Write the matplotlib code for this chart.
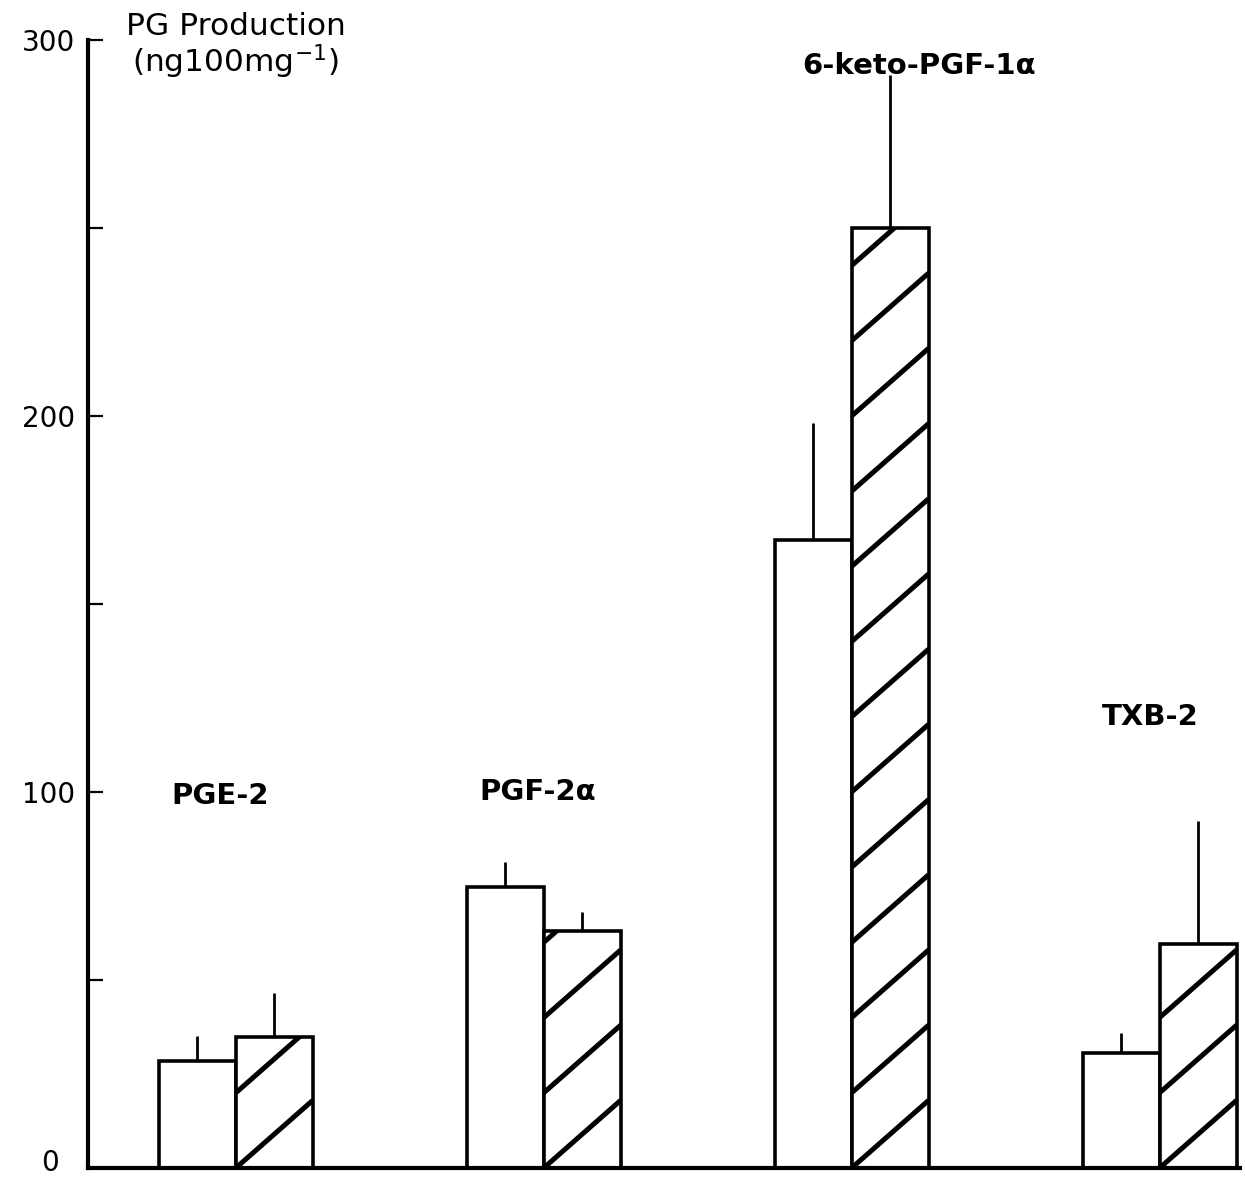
import numpy as np
import matplotlib
matplotlib.use("Agg")
import matplotlib.pyplot as plt
from matplotlib.transforms import ScaledTranslation

# datos
grupos = ["PGE-2", "PGF-2α", "6-keto-PGF-1α", "TXB-2"]
control = [28.5, 74.7, 167.0, 30.6]
control_err = [6.6, 6.7, 31.1, 5.3]
tratado = [34.8, 63.0, 250.0, 59.6]
tratado_err = [11.7, 5.1, 40.7, 32.7]

# posicion de las etiquetas (x relativo al grupo, y en unidades del eje)
etiqueta_dx = [-0.05, -0.02, 0.22, -0.03]
etiqueta_y = [99, 100, 293, 120]

ancho = 0.25
paso_rayado = 20
subida_rayado = 18

fig = plt.figure(figsize=(12.45, 11.77), dpi=100)
ax = fig.add_axes([0.0707, 0.00765, 0.925, 0.9584])

x = np.arange(len(grupos))

barras_c = ax.bar(x - ancho / 2, control, width=ancho, color="white",
                  edgecolor="black", linewidth=2.6, zorder=2)
barras_t = ax.bar(x + ancho / 2, tratado, width=ancho, color="white",
                  edgecolor="black", linewidth=2.6, zorder=2)

ax.errorbar(x - ancho / 2, control, yerr=[np.zeros(len(x)), control_err],
            fmt="none", ecolor="black", elinewidth=2, capsize=0, zorder=1)
ax.errorbar(x + ancho / 2, tratado, yerr=[np.zeros(len(x)), tratado_err],
            fmt="none", ecolor="black", elinewidth=2, capsize=0, zorder=1)

# rayado ancho dibujado a mano, recortado a cada barra
for barra, alto in zip(barras_t, tratado):
    x0 = barra.get_x()
    x1 = x0 + barra.get_width()
    for base in np.arange(0, alto + paso_rayado, paso_rayado):
        linea, = ax.plot([x0, x1], [base, base + subida_rayado],
                         color="black", linewidth=3.6, solid_capstyle="butt",
                         zorder=3)
        linea.set_clip_path(barra)

for i, nombre in enumerate(grupos):
    ax.text(x[i] + etiqueta_dx[i], etiqueta_y[i], nombre, ha="center",
            va="center", fontsize=21, fontweight="bold", clip_on=False)

ax.text(0.128, 0.994, "PG Production\n(ng100mg$^{-1}$)", transform=ax.transAxes,
        ha="center", va="center", fontsize=22.5, linespacing=1.05)

ax.set_xlim(-0.48, 3.26)
ax.set_ylim(0, 300)
ax.set_yticks([0, 50, 100, 150, 200, 250, 300])
ax.set_yticklabels(["0", "", "100", "", "200", "", "300"])
ax.set_xticks([])
ax.tick_params(axis="y", direction="in", length=11, width=1.6,
               labelsize=20, pad=9)

# el "0" esta algo mas a la izquierda y por encima del borde
cero = ax.yaxis.get_major_ticks()[0].label1
cero.set_transform(cero.get_transform() + ScaledTranslation(-0.17, 0.08, fig.dpi_scale_trans))

for lado in ["top", "right"]:
    ax.spines[lado].set_visible(False)
ax.spines["left"].set_linewidth(3)
ax.spines["bottom"].set_linewidth(3)

fig.savefig("out.png", dpi=100, facecolor="white")
